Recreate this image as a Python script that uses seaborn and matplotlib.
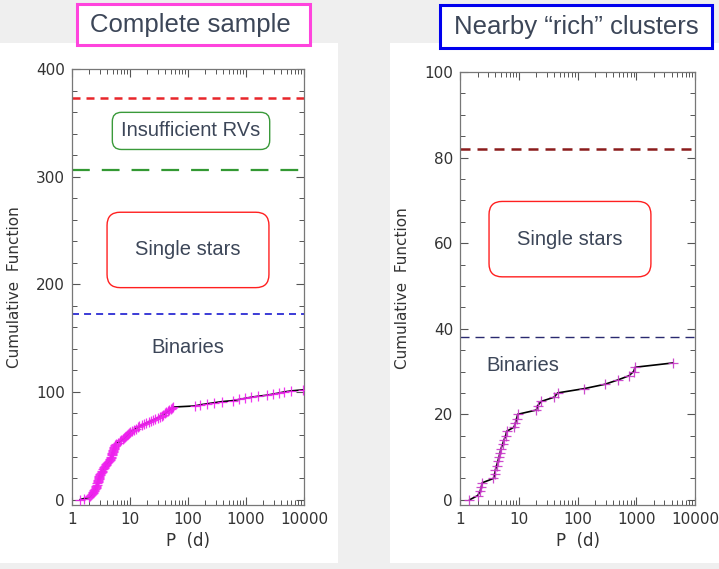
import matplotlib
matplotlib.use("Agg")
import matplotlib.pyplot as plt
import matplotlib.ticker as mticker
from matplotlib.patches import Rectangle
import seaborn as sns
import pandas as pd

# left panel: complete sample, cumulative function of binary periods
left_period = [1.37, 1.6, 2.0, 2.08, 2.15, 2.2, 2.26, 2.32, 2.38, 2.44, 2.5, 2.55, 2.6,
               2.64, 2.68, 2.72, 2.76, 2.8, 2.83, 2.87, 2.9, 2.94, 2.97, 3.0,
               3.08, 3.15, 3.25, 3.33, 3.42, 3.5, 3.6, 3.7, 3.8, 3.9, 4.05, 4.2, 4.35, 4.5,
               4.58, 4.65, 4.72, 4.8, 4.87, 4.94, 5.0, 5.07, 5.14, 5.2, 5.27, 5.34, 5.42, 5.5,
               5.75, 6.1, 6.7, 7.1, 7.5, 7.9, 8.3, 8.7, 9.0, 9.4, 9.7, 10.0,
               10.8, 11.6, 12.5, 13.5, 14.5, 15.8, 17.3, 19, 21, 23, 25, 27.5, 30, 33,
               35, 37.5, 40, 42.5, 45, 47.5, 50, 53, 56, 130, 160,
               210, 280, 380, 600, 750, 950, 1200, 1600, 2300,
               2900, 3700, 4500, 6000, 9700]
left_count = [0, 1, 2, 3, 4, 5, 6, 7, 8, 9, 10, 11, 12,
              13, 14, 15, 16, 17, 18, 19, 20, 21, 22, 23,
              24, 25, 26, 27, 28, 29, 30, 31, 32, 33, 34, 35, 36, 37,
              38, 39, 40, 41, 42, 43, 44, 45, 46, 47, 48, 49, 50, 51,
              52, 53, 54, 55, 56, 57, 58, 59, 60, 61, 62, 63,
              64, 65, 66, 67, 68, 69, 70, 71, 72, 73, 74, 75, 76, 77,
              78, 79, 80, 81, 82, 83, 84, 85, 86, 87, 88,
              89, 90, 91, 92, 93, 94, 95, 96, 97,
              98, 99, 100, 101, 102]
left_levels = [172, 306, 373]   # binaries / single stars / insufficient RVs

# right panel: nearby "rich" clusters
right_period = [1.45, 2.0, 2.2, 2.3, 2.4, 3.7, 3.9, 4.0, 4.2, 4.4, 4.6, 4.8, 5.0,
                5.3, 5.6, 6.0, 6.2, 8.3, 8.8, 9.2, 9.6, 20, 21, 24, 40, 46,
                130, 290, 480, 750, 900, 960, 4200]
right_count = [0, 1, 2, 3, 4, 5, 6, 7, 8, 9, 10, 11, 12,
               13, 14, 15, 16, 17, 18, 19, 20, 21, 22, 23, 24, 25,
               26, 27, 28, 29, 30, 31, 32]
right_levels = [38, 82]

x_ticks = [1, 10, 100, 1000, 10000]
x_ticklabels = ["1", "10", "100", "1000", "10000"]

sns.set_theme(style="ticks")
plt.rcParams["font.family"] = ["DejaVu Sans"]

TXT = "#3c4658"
W, H = 719, 569

fig = plt.figure(figsize=(W / 100, H / 100), dpi=100)
fig.patch.set_facecolor("#efefef")


def fig_rect(x0, y0, x1, y1, **kw):
    # rectangle given in pixel coords (origin top-left)
    r = Rectangle((x0 / W, 1 - y1 / H), (x1 - x0) / W, (y1 - y0) / H,
                  transform=fig.transFigure, **kw)
    fig.patches.append(r)


# white slide panels behind the plots
fig_rect(0, 43, 338, 563, facecolor="white", edgecolor="none", zorder=-5)
fig_rect(390, 43, 719, 563, facecolor="white", edgecolor="none", zorder=-5)

ax1 = fig.add_axes([72 / W, 1 - 505 / H, 232 / W, 436 / H])
ax2 = fig.add_axes([460 / W, 1 - 505 / H, 235 / W, 433 / H])


def draw_curve(ax, period, count, mcolor):
    df = pd.DataFrame({"P": period, "N": count})
    sns.lineplot(data=df, x="P", y="N", sort=False, estimator=None, color="black",
                 lw=1.2, ax=ax, zorder=3)
    sns.scatterplot(data=df, x="P", y="N", marker="+", s=55, color=mcolor,
                    linewidth=0.9, ax=ax, zorder=4, alpha=0.9)


def style_axis(ax, ymax, ymin, ymajor, yminor):
    ax.set_xscale("log")
    ax.set_xlim(1, 10000)
    ax.set_ylim(ymin, ymax)
    ax.set_xticks(x_ticks)
    ax.set_xticklabels(x_ticklabels)
    ax.xaxis.set_minor_locator(mticker.LogLocator(base=10, subs=range(2, 10)))
    ax.xaxis.set_minor_formatter(mticker.NullFormatter())
    ax.yaxis.set_major_locator(mticker.MultipleLocator(ymajor))
    ax.yaxis.set_minor_locator(mticker.MultipleLocator(yminor))
    ax.tick_params(which="both", direction="in", top=True, right=True,
                   color="#555555", labelsize=11, labelcolor="#333333")
    ax.tick_params(which="major", length=6, width=0.8, pad=5)
    ax.tick_params(which="minor", length=3.5, width=0.7)
    for s in ax.spines.values():
        s.set_color("#777777")
        s.set_linewidth(0.9)
    ax.set_facecolor("white")
    ax.set_xlabel("P  (d)", fontsize=12, color="#333333", labelpad=4)
    ax.set_ylabel("Cumulative  Function", fontsize=11, color="#333333", labelpad=10)


# ---- left panel
ax1.axhline(left_levels[2], color="#e8262b", lw=1.8, ls=(0, (3.2, 2.4)), zorder=2)
ax1.axhline(left_levels[1], color="#339933", lw=1.6, ls=(0, (8.0, 5.4)), zorder=2)
ax1.axhline(left_levels[0], color="#3b3bd6", lw=1.4, ls=(0, (3.6, 2.6)), zorder=2)
draw_curve(ax1, left_period, left_count, "#ee22ee")
style_axis(ax1, 400, -5, 100, 20)

ax1.text(0.513, 0.858, "Insufficient RVs", transform=ax1.transAxes, ha="center", va="center",
         fontsize=14.5, color=TXT, family="Liberation Sans",
         bbox=dict(boxstyle="round,pad=0.45,rounding_size=0.45", fc="white", ec="#3a9a3a", lw=1.0))
ax1.text(0.5, 0.585, "Single stars", transform=ax1.transAxes, ha="center", va="center",
         fontsize=14.5, color=TXT, family="Liberation Sans",
         bbox=dict(boxstyle="round,pad=1.4,rounding_size=0.65", fc="white", ec="#ff2020", lw=1.0))
ax1.text(0.5, 0.362, "Binaries", transform=ax1.transAxes, ha="center", va="center",
         fontsize=14.5, color=TXT, family="Liberation Sans")

# ---- right panel
ax2.axhline(right_levels[1], color="#8b1c1c", lw=1.8, ls=(0, (4.0, 2.8)), zorder=2)
ax2.axhline(right_levels[0], color="#2a2a70", lw=1.0, ls=(0, (6.5, 4.3)), zorder=2)
draw_curve(ax2, right_period, right_count, "#c838c8")
style_axis(ax2, 100, -1.2, 20, 5)

ax2.text(0.468, 0.614, "Single stars", transform=ax2.transAxes, ha="center", va="center",
         fontsize=14.5, color=TXT, family="Liberation Sans",
         bbox=dict(boxstyle="round,pad=1.4,rounding_size=0.65", fc="white", ec="#ff2020", lw=1.0))
ax2.text(0.268, 0.323, "Binaries", transform=ax2.transAxes, ha="center", va="center",
         fontsize=14.5, color=TXT, family="Liberation Sans")

# ---- titles in framed boxes
fig_rect(77, 4, 310, 45, facecolor="white", edgecolor="#ff44dd", lw=2.2)
fig_rect(440, 5, 712, 48, facecolor="white", edgecolor="#0000ee", lw=2.2)
fig.text(190 / W, 1 - 25 / H, "Complete sample", ha="center", va="center", fontsize=18.5,
         color=TXT, family="Liberation Sans")
fig.text(576 / W, 1 - 27 / H, "Nearby \u201crich\u201d clusters", ha="center", va="center",
         fontsize=18.5, color=TXT, family="Liberation Sans")

fig.savefig("out.png", dpi=100, facecolor=fig.get_facecolor())
